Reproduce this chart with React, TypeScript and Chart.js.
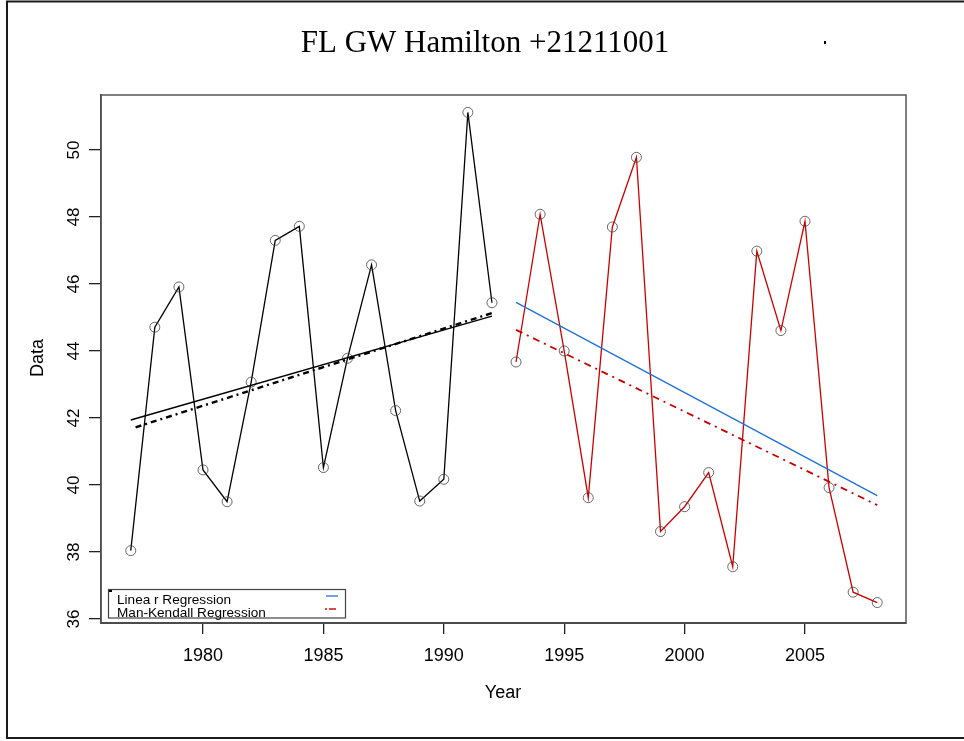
import React, { useEffect, useRef } from "react";
import { Chart, registerables } from "chart.js";

Chart.register(...registerables);

// ---- data ----
const years1 = [1977, 1978, 1979, 1980, 1981, 1982, 1983, 1984, 1985, 1986, 1987, 1988, 1989, 1990, 1991, 1992];
const values1 = [38.04, 44.71, 45.91, 40.45, 39.5, 43.07, 47.3, 47.72, 40.52, 43.78, 46.57, 42.22, 39.52, 40.17, 51.12, 45.44];
const years2 = [1993, 1994, 1995, 1996, 1997, 1998, 1999, 2000, 2001, 2002, 2003, 2004, 2005, 2006, 2007, 2008];
const values2 = [43.67, 48.08, 44.0, 39.62, 47.7, 49.78, 38.61, 39.35, 40.37, 37.56, 46.98, 44.61, 47.87, 39.92, 36.8, 36.49];

// regression end points
const linRegYears1 = [1977, 1992];
const linRegValues1 = [41.94, 45.04];
const mkRegYears1 = [1977.2, 1992];
const mkRegValues1 = [41.72, 45.13];
const linRegYears2 = [1993, 2008];
const linRegValues2 = [45.45, 39.68];
const mkRegYears2 = [1993, 2008];
const mkRegValues2 = [44.63, 39.4];

const xTicks = [1980, 1985, 1990, 1995, 2000, 2005];
const yTicks = [36, 38, 40, 42, 44, 46, 48, 50];
const xMin = 1975.764;
const xMax = 2009.195;
const yMin = 35.88;
const yMax = 51.64;

const titleText = "FL GW Hamilton +21211001";
const xTitle = "Year";
const yTitle = "Data";
const legendLabels = ["Linea r Regression", "Man-Kendall Regression"];

const pts = (xs: number[], ys: number[]) => xs.map((x, i) => ({ x, y: ys[i] }));

export default function App() {
  const ref = useRef<HTMLCanvasElement>(null);

  useEffect(() => {
    const deco = {
      id: "deco",
      afterDraw(chart: any) {
        const ctx = chart.ctx as CanvasRenderingContext2D;
        const ca = chart.chartArea;
        const xs = chart.scales.x;
        const ys = chart.scales.y;
        ctx.save();
        // outer frame
        ctx.strokeStyle = "#1a1a1a";
        ctx.lineWidth = 2;
        ctx.strokeRect(7, 1.5, 1000, 736.5);
        // plot frame
        ctx.strokeStyle = "#555";
        ctx.lineWidth = 1.5;
        ctx.strokeRect(ca.left, ca.top, ca.right - ca.left, ca.bottom - ca.top);
        // title
        ctx.fillStyle = "#000";
        ctx.font = '31px "Liberation Serif"';
        ctx.textAlign = "center";
        ctx.textBaseline = "middle";
        ctx.fillText(titleText, 485, 44);
        ctx.fillRect(824, 41, 2, 3);
        // x tick labels
        ctx.font = '18px "Liberation Sans"';
        xTicks.forEach((v) => {
          ctx.fillText(String(v), xs.getPixelForValue(v), 656);
        });
        // y tick labels (rotated)
        ctx.font = '17px "Liberation Sans"';
        yTicks.forEach((v) => {
          const y = ys.getPixelForValue(v);
          ctx.save();
          ctx.translate(74, y);
          ctx.rotate(-Math.PI / 2);
          ctx.fillText(String(v), 0, 0);
          ctx.restore();
        });
        // axis titles
        ctx.font = '18px "Liberation Sans"';
        ctx.fillText(xTitle, 503, 693);
        ctx.save();
        ctx.translate(38, 358);
        ctx.rotate(-Math.PI / 2);
        ctx.fillText(yTitle, 0, 0);
        ctx.restore();
        // legend
        ctx.fillStyle = "#fff";
        ctx.fillRect(108, 589, 238, 29);
        ctx.strokeStyle = "#444";
        ctx.lineWidth = 1.2;
        ctx.strokeRect(108.5, 589.5, 237, 28.5);
        ctx.fillStyle = "#000";
        ctx.fillRect(109, 590, 3, 2);
        ctx.font = '13.6px "Liberation Sans"';
        ctx.textAlign = "left";
        ctx.textBaseline = "alphabetic";
        ctx.fillText(legendLabels[0], 117, 604);
        ctx.fillText(legendLabels[1], 117, 617);
        ctx.strokeStyle = "#4a8fe0";
        ctx.lineWidth = 1.6;
        ctx.beginPath();
        ctx.moveTo(326, 596);
        ctx.lineTo(338, 596);
        ctx.stroke();
        ctx.strokeStyle = "#cc1111";
        ctx.setLineDash([2, 2, 7, 2]);
        ctx.beginPath();
        ctx.moveTo(325, 609);
        ctx.lineTo(338, 609);
        ctx.stroke();
        ctx.restore();
      },
    };

    const chart = new Chart(ref.current as HTMLCanvasElement, {
      type: "scatter",
      data: {
        datasets: [
          {
            data: pts(linRegYears1, linRegValues1),
            showLine: true,
            borderColor: "#000",
            borderWidth: 1.5,
            pointRadius: 0,
          },
          {
            data: pts(mkRegYears1, mkRegValues1),
            showLine: true,
            borderColor: "#000",
            borderWidth: 2.4,
            borderDash: [6, 4, 2, 4],
            pointRadius: 0,
          },
          {
            data: pts(linRegYears2, linRegValues2),
            showLine: true,
            borderColor: "#1f70d8",
            borderWidth: 1.3,
            pointRadius: 0,
          },
          {
            data: pts(mkRegYears2, mkRegValues2),
            showLine: true,
            borderColor: "#c80000",
            borderWidth: 1.8,
            borderDash: [7, 5, 2, 5],
            pointRadius: 0,
          },
          {
            data: pts(years1, values1),
            showLine: true,
            borderColor: "#000",
            borderWidth: 1.3,
            pointRadius: 5,
            pointBorderColor: "#444",
            pointBackgroundColor: "rgba(0,0,0,0)",
            pointBorderWidth: 0.8,
          },
          {
            data: pts(years2, values2),
            showLine: true,
            borderColor: "#cc0000",
            borderWidth: 1.3,
            pointRadius: 5,
            pointBorderColor: "#444",
            pointBackgroundColor: "rgba(0,0,0,0)",
            pointBorderWidth: 0.8,
          },
        ],
      },
      options: {
        responsive: false,
        animation: false,
        events: [],
        layout: { padding: { left: 0, top: 95, right: 58, bottom: 0 } },
        plugins: { legend: { display: false }, tooltip: { enabled: false }, title: { display: false } },
        scales: {
          x: {
            type: "linear",
            min: xMin,
            max: xMax,
            afterBuildTicks: (s: any) => {
              s.ticks = xTicks.map((v) => ({ value: v }));
            },
            afterFit: (s: any) => {
              s.height = 118;
            },
            ticks: { display: false },
            grid: { display: true, drawOnChartArea: false, drawTicks: true, tickLength: 11, color: "#222", lineWidth: 1.3 },
            border: { display: true, color: "#333", width: 2 },
          },
          y: {
            type: "linear",
            min: yMin,
            max: yMax,
            afterBuildTicks: (s: any) => {
              s.ticks = yTicks.map((v) => ({ value: v }));
            },
            afterFit: (s: any) => {
              s.width = 101;
            },
            ticks: { display: false },
            grid: { display: true, drawOnChartArea: false, drawTicks: true, tickLength: 12, color: "#222", lineWidth: 1.3 },
            border: { display: true, color: "#333", width: 1.5 },
          },
        },
      },
      plugins: [deco],
    } as any);
    return () => chart.destroy();
  }, []);

  return (
    <div style={{ position: "fixed", left: 0, top: 0, width: 964, height: 741, background: "#fff" }}>
      <canvas ref={ref} width={964} height={741} style={{ display: "block", width: 964, height: 741 }} />
    </div>
  );
}
